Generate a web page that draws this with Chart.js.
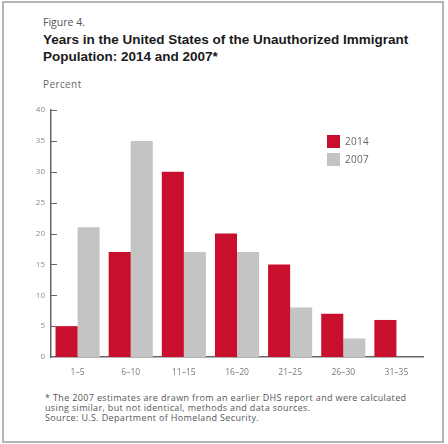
<!DOCTYPE html>
<html>
<head>
<meta charset="utf-8">
<script src="https://cdn.jsdelivr.net/npm/chart.js@4/dist/chart.umd.min.js"></script>
<style>
html,body{margin:0;padding:0;background:#fff;}
body{width:448px;height:444px;position:relative;overflow:hidden;font-family:"Open Sans",sans-serif;}
#frame{position:absolute;left:2px;top:1px;width:438px;height:438px;border:2px solid #b5b5b5;}
.t{position:absolute;white-space:nowrap;}
#fig{left:43px;top:15px;font-size:10.5px;color:#555;}
#title{left:43px;top:31px;font-family:"Liberation Sans",Arial,sans-serif;font-weight:bold;font-size:13.5px;line-height:17px;color:#1a1a1a;}
#pct{left:43px;top:77px;font-size:10px;letter-spacing:0.4px;color:#666;}
#foot{left:45px;top:393px;font-size:9px;letter-spacing:0.35px;line-height:10px;color:#555;}
#wrap{position:absolute;left:0;top:90px;width:448px;height:290px;}
.sw{position:absolute;width:13px;height:13px;}
.lt{position:absolute;font-size:10px;letter-spacing:0.3px;color:#666;line-height:13px;}
</style>
</head>
<body>
<div id="frame"></div>
<div class="t" id="fig">Figure 4.</div>
<div class="t" id="title">Years in the United States of the Unauthorized Immigrant<br>Population: 2014 and 2007*</div>
<div class="t" id="pct">Percent</div>
<div id="wrap"><canvas id="c" width="448" height="290"></canvas></div>
<div class="sw" style="left:327px;top:135px;background:#c8102e"></div>
<div class="lt" style="left:345px;top:135px;">2014</div>
<div class="sw" style="left:327px;top:153px;background:#c4c4c4"></div>
<div class="lt" style="left:345px;top:153px;">2007</div>
<div class="t" id="foot">* The 2007 estimates are drawn from an earlier DHS report and were calculated<br>using similar, but not identical, methods and data sources.<br>Source: U.S. Department of Homeland Security.</div>
<script>
const categories = ["1–5","6–10","11–15","16–20","21–25","26–30","31–35"];
const values2014 = [5,17,30,20,15,7,6];
const values2007 = [21,35,17,17,8,3,null];
const yTicks = [0,5,10,15,20,25,30,35,40];

const innerTicks = {
  id:'innerTicks',
  afterDraw(chart){
    const ctx = chart.ctx, y = chart.scales.y, x = chart.scales.x;
    ctx.save();
    ctx.strokeStyle = '#666';
    ctx.lineWidth = 1;
    yTicks.forEach(v=>{
      if(v===0) return;
      const py = Math.round(y.getPixelForValue(v))+0.5;
      ctx.beginPath();
      ctx.moveTo(x.left, py);
      ctx.lineTo(x.left+6, py);
      ctx.stroke();
    });
    ctx.restore();
  }
};

new Chart(document.getElementById('c'), {
  type:'bar',
  data:{
    labels:categories,
    datasets:[
      {label:'2014', data:values2014, backgroundColor:'#c8102e'},
      {label:'2007', data:values2007, backgroundColor:'#c4c4c4'}
    ]
  },
  options:{
    responsive:false,
    animation:false,
    layout:{padding:{top:20,right:25,left:0,bottom:0}},
    datasets:{bar:{categoryPercentage:0.83,barPercentage:1.0}},
    plugins:{legend:{display:false},tooltip:{enabled:false}},
    scales:{
      x:{
        grid:{display:false, drawTicks:false},
        border:{display:true,color:'#666',width:1.5},
        ticks:{color:'#777',font:{family:'Open Sans',size:8.5},padding:10},
        afterFit(s){s.height=23;}
      },
      y:{
        min:0,max:40,
        afterBuildTicks(s){s.ticks = yTicks.map(v=>({value:v}));},
        grid:{display:false, drawTicks:false},
        border:{display:true,color:'#666',width:1.5},
        ticks:{color:'#888',font:{family:'Open Sans',size:8},padding:6},
        afterFit(s){s.width=51;}
      }
    }
  },
  plugins:[innerTicks]
});
</script>
</body>
</html>
